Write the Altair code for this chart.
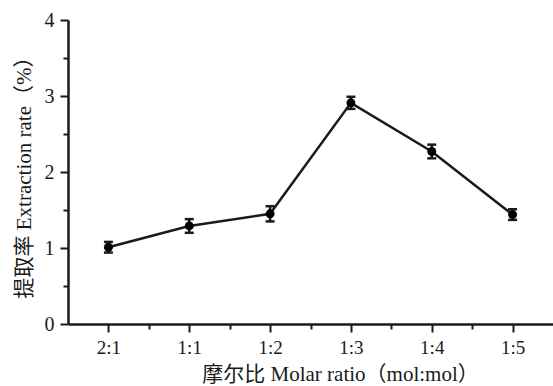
import altair as alt
import pandas as pd

ratios = ["2:1", "1:1", "1:2", "1:3", "1:4", "1:5"]
positions = [1, 2, 3, 4, 5, 6]
rates = [1.01, 1.29, 1.45, 2.91, 2.27, 1.44]
errors = [0.07, 0.09, 0.10, 0.08, 0.09, 0.07]
minor_x = [1.5, 2.5, 3.5, 4.5, 5.5]
minor_y = [0.5, 1.5, 2.5, 3.5]

df = pd.DataFrame({"pos": positions, "ratio": ratios, "rate": rates, "err": errors})
df["lo"] = df["rate"] - df["err"]
df["hi"] = df["rate"] + df["err"]

FONT = "Liberation Serif, Noto Sans CJK SC"
INK = "#1a1a1a"

label_expr = "{" + ",".join(f"'{p}':'{r}'" for p, r in zip(positions, ratios)) + "}[datum.value]"

xscale = alt.Scale(domain=[0.5, 6.5], nice=False, zero=False)
yscale = alt.Scale(domain=[0, 4], nice=False)

x_main = alt.X("pos:Q", scale=xscale, axis=alt.Axis(
    values=positions, labelExpr=label_expr, title="摩尔比 Molar ratio（mol:mol）",
    orient="bottom", grid=False, tickSize=8, tickWidth=2, domainWidth=2.5,
    domainColor=INK, tickColor=INK, labelColor=INK, titleColor=INK,
    labelFont=FONT, labelFontSize=19, titleFont=FONT, titleFontSize=21,
    titleFontWeight="normal", labelPadding=6, titleX=272, titleY=39))
y_main = alt.Y("rate:Q", scale=yscale, axis=alt.Axis(
    values=[0, 1, 2, 3, 4], title="提取率 Extraction rate（%）", orient="left",
    grid=False, tickSize=8, tickWidth=2, domainWidth=2.5,
    domainColor=INK, tickColor=INK, labelColor=INK, titleColor=INK,
    labelFont=FONT, labelFontSize=20, titleFont=FONT, titleFontSize=21,
    titleFontWeight="normal", labelPadding=6, titleX=-34, titleY=152))

base = alt.Chart(df)

line = base.mark_line(color=INK, strokeWidth=2.5).encode(x=x_main, y=y_main)
xs = alt.X("pos:Q", scale=xscale, axis=None)
stems = base.mark_rule(color=INK, strokeWidth=2.5).encode(
    x=xs, y=alt.Y("lo:Q", scale=yscale, axis=None), y2="hi:Q")
cap_lo = base.mark_tick(color=INK, thickness=2.5, size=9, orient="horizontal", opacity=1).encode(
    x=xs, y=alt.Y("lo:Q", scale=yscale, axis=None))
cap_hi = base.mark_tick(color=INK, thickness=2.5, size=9, orient="horizontal", opacity=1).encode(
    x=xs, y=alt.Y("hi:Q", scale=yscale, axis=None))
pts = base.mark_circle(color="black", size=80, opacity=1).encode(
    x=xs, y=alt.Y("rate:Q", scale=yscale, axis=None))

mx = pd.DataFrame({"mx": minor_x})
minor_x_layer = alt.Chart(mx).mark_point(opacity=0).encode(
    x=alt.X("mx:Q", scale=xscale, axis=alt.Axis(
        values=minor_x, labels=False, title=None, orient="bottom", grid=False,
        tickSize=5, tickWidth=2, domain=False, tickColor=INK)),
    y=alt.value(0))
my = pd.DataFrame({"my": minor_y})
minor_y_layer = alt.Chart(my).mark_point(opacity=0).encode(
    y=alt.Y("my:Q", scale=yscale, axis=alt.Axis(
        values=minor_y, labels=False, title=None, orient="left", grid=False,
        tickSize=5, tickWidth=2, domain=False, tickColor=INK)),
    x=alt.value(0))

chart = alt.layer(line, stems, cap_lo, cap_hi, pts, minor_x_layer, minor_y_layer).resolve_axis(
    x="independent", y="independent"
).properties(
    width=485, height=304,
    autosize=alt.AutoSizeParams(type="none"),
    padding={"left": 68, "top": 20, "right": 0, "bottom": 62},
    background="white",
).configure_view(stroke=None)

chart.save("out.html", embed_options={"renderer": "svg", "actions": False})
